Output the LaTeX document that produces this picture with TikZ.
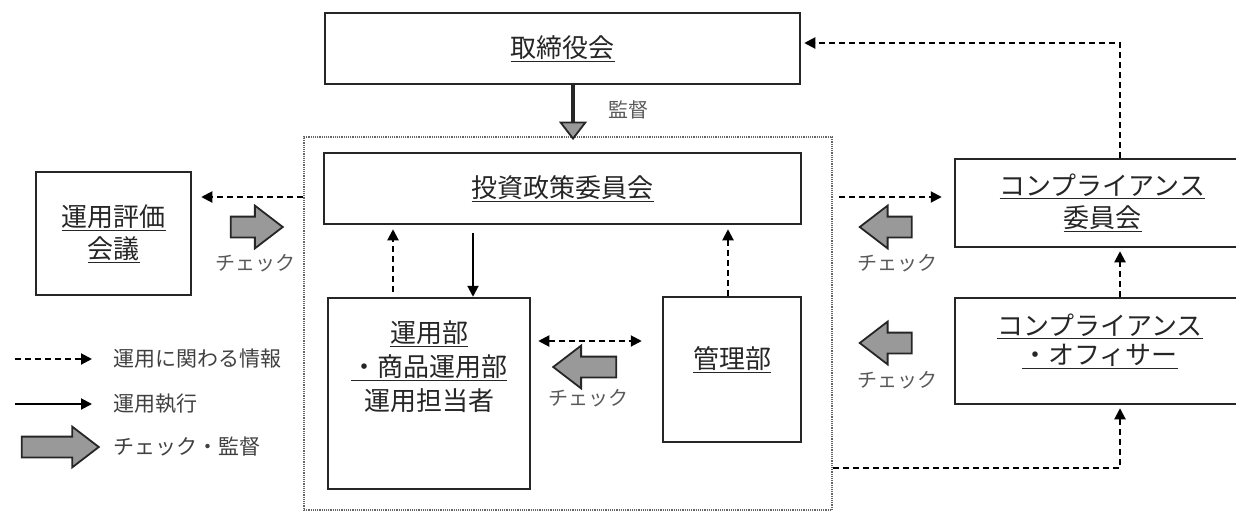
\documentclass[tikz,border=0pt]{standalone}
\usepackage{fontspec}
\setmainfont{Noto Sans CJK JP}
\usetikzlibrary{arrows.meta,shapes.arrows}

\begin{document}
\begin{tikzpicture}[
    x=1pt, y=-1pt,
    >={Triangle[length=11pt, width=11pt]},
    unit/.style={rectangle, draw=black!85, line width=2.5pt, inner sep=0pt,
        font=\fontsize{26}{32}\selectfont, align=center, text=black!85},
    group/.style={rectangle, draw=black!60, line width=1.6pt, dash pattern=on 1.2pt off 1pt, inner sep=0pt},
    main/.style={font=\fontsize{26}{32}\selectfont, align=center, text=black!85},
    small/.style={font=\fontsize{20}{24}\selectfont, text=black!65},
    legend/.style={font=\fontsize{21}{24}\selectfont, text=black!75, anchor=west},
    info/.style={line width=2pt, dash pattern=on 6pt off 4pt},
    exec/.style={line width=2pt},
    check/.style={single arrow, draw=black!85, fill=black!40, line width=1.8pt,
        inner xsep=0pt, inner ysep=9.5pt, minimum height=52pt,
        single arrow head extend=11pt, single arrow tip angle=75}
    ]
    \useasboundingbox (0,0) rectangle (1236,517);

    % outer frame
    \node (Group) [group, minimum width=528pt, minimum height=373pt] at (568,323.5) {};

    % boxes
    \node (Board) [unit, minimum width=475pt, minimum height=71pt] at (562.5,48.5) {\underline{取締役会}};
    \node (Policy) [unit, minimum width=477pt, minimum height=71pt] at (562.5,188.5) {\underline{投資政策委員会}};
    \node (Ops) [unit, minimum width=202pt, minimum height=191pt] at (429,393.5) {};
    \node (OpsText) [main, font=\fontsize{26}{34}\selectfont] at (429,367)
        {\underline{運用部}\\\underline{・商品運用部}\\運用担当者};
    \node (Kanri) [unit, minimum width=138pt, minimum height=145pt] at (732,369.5) {};
    \node (KanriText) [main] at (732,360) {\underline{管理部}};
    \node (Eval) [unit, minimum width=155pt, minimum height=123pt] at (113.5,233.5)
        {\underline{運用評価}\\\underline{会議}};
    \node (CompCom) [unit, minimum width=295pt, minimum height=88pt] at (1102.5,203)
        {\underline{コンプライアンス}\\\underline{委員会}};
    \node (CompOff) [unit, minimum width=295pt, minimum height=106pt] at (1102.5,351) {};
    \node (CompOffText) [main, font=\fontsize{26}{29}\selectfont] at (1100,341)
        {\underline{コンプライアンス}\\\underline{・オフィサー}};

    % check arrows
    \node (Supervise) [check, shape border rotate=270, minimum height=54pt, inner ysep=6pt,
        single arrow head extend=11.5pt] at (573,111) {};
    \node (SuperviseLabel) [small] at (628,110) {監督};
    \node (EvalCheck) [check] at (250,227) {};
    \node (EvalCheckLabel) [small] at (255,263) {チェック};
    \node (OpsCheck) [check, shape border rotate=180, minimum height=63pt] at (591.5,367) {};
    \node (OpsCheckLabel) [small] at (588,398) {チェック};
    \node (CompComCheck) [check, shape border rotate=180] at (892.5,227) {};
    \node (CompComCheckLabel) [small] at (897,263) {チェック};
    \node (CompOffCheck) [check, shape border rotate=180] at (892.5,343) {};
    \node (CompOffCheckLabel) [small] at (897,380) {チェック};

    % information and execution
    \draw [info, ->, shorten >=9pt] (Group.west |- 0,197) -- (Eval.east |- 0,197);
    \draw [info, ->, shorten <=5pt, shorten >=4pt] (393,0 |- Ops.north) -- (393,0 |- Policy.south);
    \draw [exec, ->, shorten <=8pt] (473,0 |- Policy.south) -- (473,0 |- Ops.north);
    \draw [info, ->, shorten >=4pt] (728,0 |- Kanri.north) -- (728,0 |- Policy.south);
    \draw [info, <->, shorten <=7pt, shorten >=20pt] (Ops.east |- 0,341) -- (Kanri.west |- 0,341);
    \draw [info, ->, shorten <=6pt, shorten >=12pt] (Group.east |- 0,197) -- (CompCom.west |- 0,197);
    \draw [info, ->, shorten >=3pt] (1120,0 |- CompCom.north) |- (Board.east |- 0,43);
    \draw [info, ->, shorten >=3pt] (1120,0 |- CompOff.north) -- (1120,0 |- CompCom.south);
    \draw [info, ->, shorten >=3pt] (Group.east |- 0,468) -| (1120,0 |- CompOff.south);

    % legend
    \node (InfoText) [legend] at (110,359) {運用に関わる情報};
    \node (ExecText) [legend] at (110,404) {運用執行};
    \node (CheckText) [legend] at (110,447) {チェック・監督};
    \coordinate (InfoStart) at (15,359);
    \coordinate (ExecStart) at (15,404);
    \draw [info, ->, shorten >=18pt] (InfoStart) -- (InfoText.west);
    \draw [exec, ->, shorten >=18pt] (ExecStart) -- (ExecText.west);
    \node (CheckKey) [check, minimum height=77pt, single arrow head extend=10pt] at (53.5,447) {};
\end{tikzpicture}
\end{document}
